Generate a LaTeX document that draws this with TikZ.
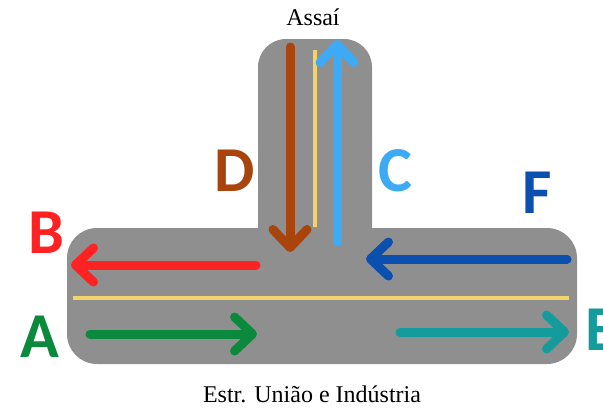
\documentclass[tikz,border=0pt]{standalone}
\usepackage{fontspec}
\setmainfont{Liberation Serif}
\newfontfamily\lettersans{Carlito}
\usetikzlibrary{arrows.meta}
\definecolor{road}{HTML}{8F8F8F}
\definecolor{lanecol}{HTML}{F2D46A}
\definecolor{colA}{HTML}{0B8A3E}
\definecolor{colB}{HTML}{FF2222}
\definecolor{colC}{HTML}{3DAAF5}
\definecolor{colD}{HTML}{A8440C}
\definecolor{colE}{HTML}{149C9C}
\definecolor{colF}{HTML}{0B50AE}
\tikzset{
  flow/.style={line width=9pt, line cap=round, line join=round, -{Straight Barb[length=18pt,width=34pt,round]}},
  lane/.style={line width=3.5pt, draw=lanecol},
  letter/.style={font=\lettersans\bfseries\fontsize{64}{64}\selectfont, inner sep=0pt},
  caption/.style={font=\fontsize{24}{24}\selectfont, inner sep=0pt, anchor=base}
}
\begin{document}
\begin{tikzpicture}[x=1pt,y=-1pt]
\useasboundingbox (0,0) rectangle (603,410);
% road
\fill[road, rounded corners=30pt] (67,228) rectangle (577,364);
\fill[road, rounded corners=28pt] (258,262) -- (258,39) -- (372,39) -- (372,262) -- cycle;
% lane dividers
\draw[lane] (73,298) -- (569,298);
\draw[lane] (315,50) -- (315,227);
% flows
\coordinate (Ds) at (290,47);  \coordinate (De) at (290,252);
\coordinate (Cs) at (337,242); \coordinate (Ce) at (337,40);
\coordinate (Bs) at (256,265); \coordinate (Be) at (71,265);
\coordinate (As) at (90,334);  \coordinate (Ae) at (257,334);
\coordinate (Fs) at (567,259); \coordinate (Fe) at (366,259);
\coordinate (Es) at (400,332); \coordinate (Ee) at (569,332);
\draw[flow, colD] (Ds) -- (De);
\draw[flow, colC] (Cs) -- (Ce);
\draw[flow, colB] (Bs) -- (Be);
\draw[flow, colA] (As) -- (Ae);
\draw[flow, colF] (Fs) -- (Fe);
\draw[flow, colE] (Es) -- (Ee);
% letters
\node[letter, text=colB] (lB) at (46,233) {B};
\node[letter, text=colA] (lA) at (40,337) {A};
\node[letter, text=colD] (lD) at (235,171) {D};
\node[letter, text=colC] (lC) at (395,171) {C};
\node[letter, text=colF] (lF) at (537,193) {F};
\node[letter, text=colE, anchor=west] (lE) at (585,330) {E};
% captions
\node[caption] (top) at (313,25) {Assaí};
\node[caption] (bottom) at (312,402) {Estr. União e Indústria};
\end{tikzpicture}
\end{document}
